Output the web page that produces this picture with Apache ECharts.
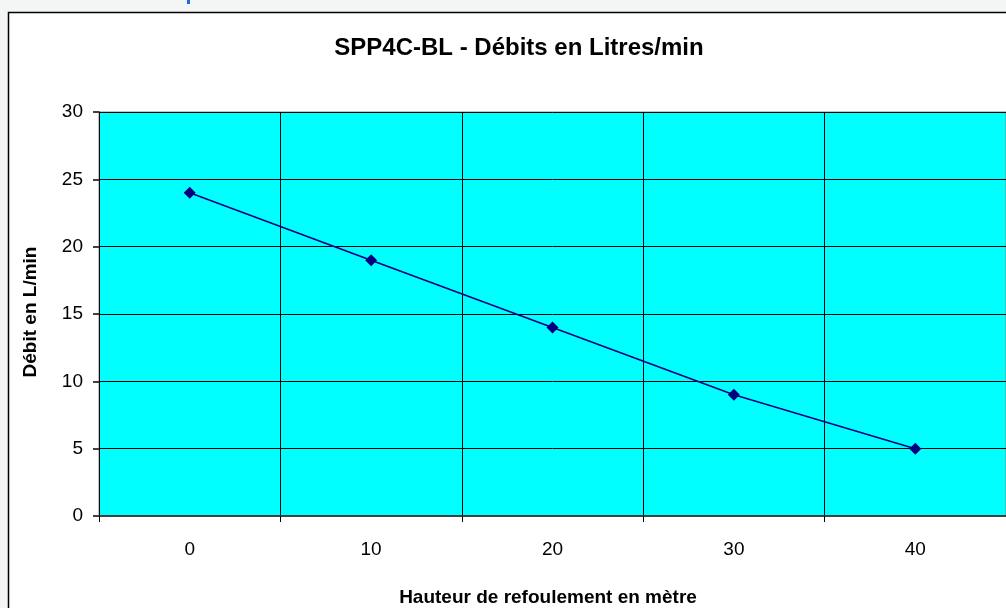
<!DOCTYPE html>
<html><head><meta charset="utf-8">
<script src="https://cdn.jsdelivr.net/npm/echarts@6/dist/echarts.min.js"></script>
<style>html,body{margin:0;padding:0;background:#f3f6f5;}#c{width:1006px;height:608px;}</style>
</head><body><div id="c"></div>
<script>
const categories = ['0','10','20','30','40'];
const debit = [24, 19, 14, 9, 5];
const chartTitle = 'SPP4C-BL - Débits en Litres/min';
const xName = 'Hauteur de refoulement en mètre';
const yName = 'Débit en L/min';

const chart = echarts.init(document.getElementById('c'), null, {renderer:'canvas'});
const font = '"Liberation Sans", Arial, sans-serif';
chart.setOption({
  backgroundColor: '#f3f6f5',
  animation: false,
  graphic: [
    {type:'rect', z:-10, shape:{x:8.5,y:12.5,width:1010,height:620}, style:{fill:'#ffffff', stroke:'#000000', lineWidth:1.5}},
    {type:'rect', z:-10, shape:{x:187,y:0,width:3,height:4}, style:{fill:'#1a6fd8'}},
    {type:'text', z:10, x:519, y:48, style:{text:chartTitle, fontFamily:font, fontWeight:'bold', fontSize:24, fill:'#000', textAlign:'center', textVerticalAlign:'middle'}},
    {type:'text', z:10, rotation:Math.PI/2, x:31, y:312, style:{text:yName, fontFamily:font, fontWeight:'bold', fontSize:19, fill:'#000', textAlign:'center', textVerticalAlign:'middle'}},
    {type:'text', z:10, x:548, y:598, style:{text:xName, fontFamily:font, fontWeight:'bold', fontSize:19, fill:'#000', textAlign:'center', textVerticalAlign:'middle'}}
  ],
  grid: {left:99, top:112, width:909, height:404, show:true, backgroundColor:'#00ffff', borderColor:'#808080', borderWidth:1, containLabel:false},
  xAxis: {
    type:'category', data:categories, boundaryGap:true,
    axisLine:{show:true, lineStyle:{color:'#404040', width:2}},
    axisTick:{show:true, interval:0, alignWithLabel:false, length:6, lineStyle:{color:'#000'}},
    axisLabel:{color:'#000', fontFamily:font, fontSize:19, margin:24, interval:0},
    splitLine:{show:true, interval:0, lineStyle:{color:'#000', width:1}}
  },
  yAxis: {
    type:'value', min:0, max:30, interval:5,
    axisLine:{show:true, lineStyle:{color:'#000', width:1}},
    axisTick:{show:true, length:6, lineStyle:{color:'#404040', width:2}},
    axisLabel:{color:'#000', fontFamily:font, fontSize:19, margin:16},
    splitLine:{show:true, lineStyle:{color:'#000', width:1}}
  },
  series: [{
    type:'line', data:debit, symbol:'diamond', symbolSize:12,
    lineStyle:{color:'#000080', width:1.6},
    itemStyle:{color:'#000080'}
  }]
});
</script></body></html>
